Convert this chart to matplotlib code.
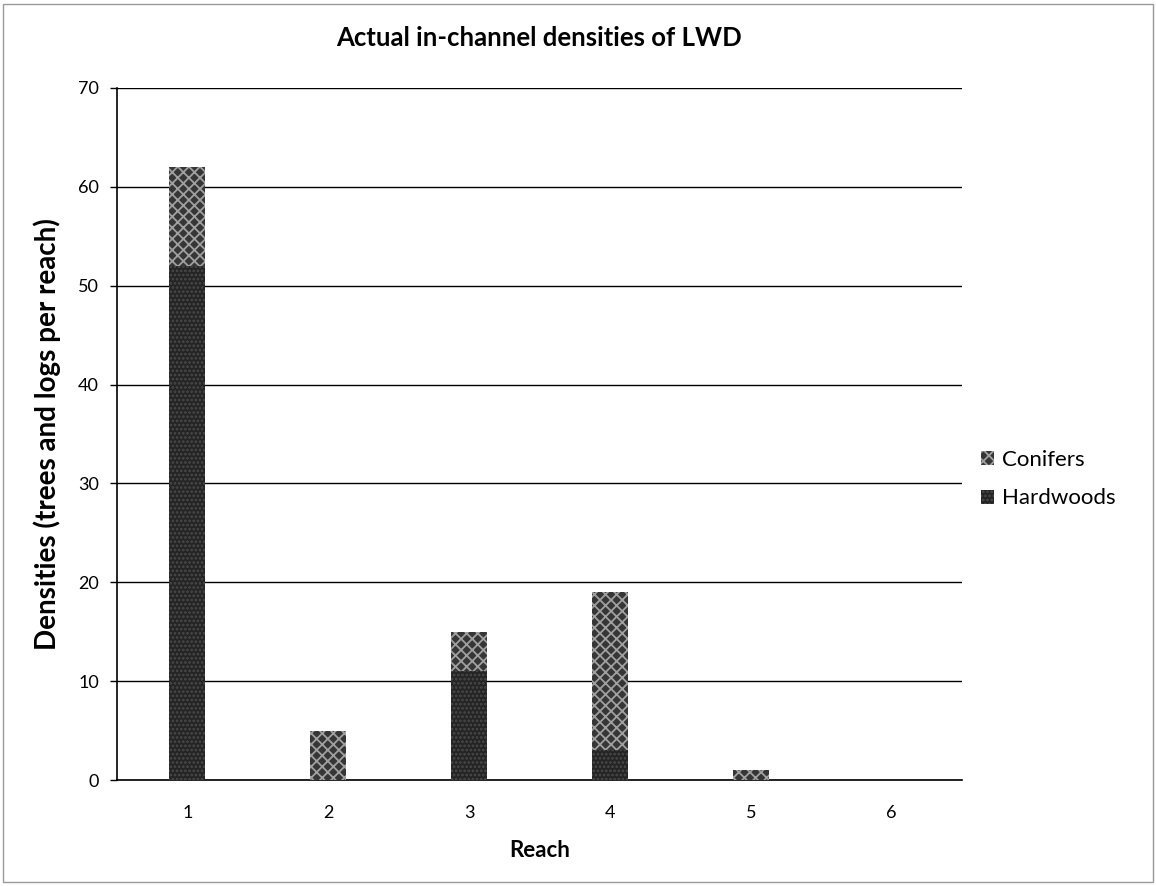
import matplotlib
matplotlib.use('Agg')
import matplotlib.pyplot as plt
from matplotlib.patches import Rectangle

plt.rcParams['font.family'] = ['Lato', 'DejaVu Sans']
plt.rcParams['hatch.linewidth'] = 1.3

# data
reaches = ['1', '2', '3', '4', '5', '6']
hardwoods = [52, 0, 11, 3, 0, 0]
conifers = [10, 5, 4, 16, 1, 0]

fig = plt.figure(figsize=(11.56, 8.86), dpi=100)
ax = fig.add_axes([0.1012, 0.1196, 0.7310, 0.7811])

x = range(len(reaches))
ax.bar(x, hardwoods, width=0.255, color='#242424', edgecolor='#4a4a4a',
       linewidth=0, hatch='....', label='Hardwoods', zorder=3)
ax.bar(x, conifers, bottom=hardwoods, width=0.255, color='#363636',
       edgecolor='#a0a0a0', linewidth=0, hatch='xxx', label='Conifers', zorder=3)

ax.set_xlim(-0.5, len(reaches) - 0.5)
ax.set_ylim(0, 70)
ax.set_yticks(range(0, 71, 10))
ax.set_xticks(list(x))
ax.set_xticklabels(reaches)
ax.tick_params(axis='x', length=0, labelsize=13, pad=18)
ax.tick_params(axis='y', length=5, width=1, labelsize=13, pad=8)
ax.yaxis.grid(True, color='black', linewidth=1)
ax.set_axisbelow(True)
for s in ['top', 'right']:
    ax.spines[s].set_visible(False)
ax.spines['left'].set_linewidth(1.2)
ax.spines['bottom'].set_linewidth(1.2)

ax.set_title('Actual in-channel densities of LWD', fontsize=18.5, fontweight='bold', pad=30)
ax.set_xlabel('Reach', fontsize=16, fontweight='bold', labelpad=14)
ax.set_ylabel('Densities (trees and logs per reach)', fontsize=20, fontweight='bold', labelpad=12)

h, l = ax.get_legend_handles_labels()
ax.legend(h[::-1], l[::-1], loc='center left', bbox_to_anchor=(1.012, 0.435),
          borderaxespad=0, frameon=False, fontsize=16, handlelength=0.6,
          handleheight=0.6, handletextpad=0.35, labelspacing=0.85)

fig.patches.append(Rectangle((0.003, 0.004), 0.994, 0.992, transform=fig.transFigure,
                             fill=False, edgecolor='#999999', linewidth=1))

fig.savefig('out.png', dpi=100)
